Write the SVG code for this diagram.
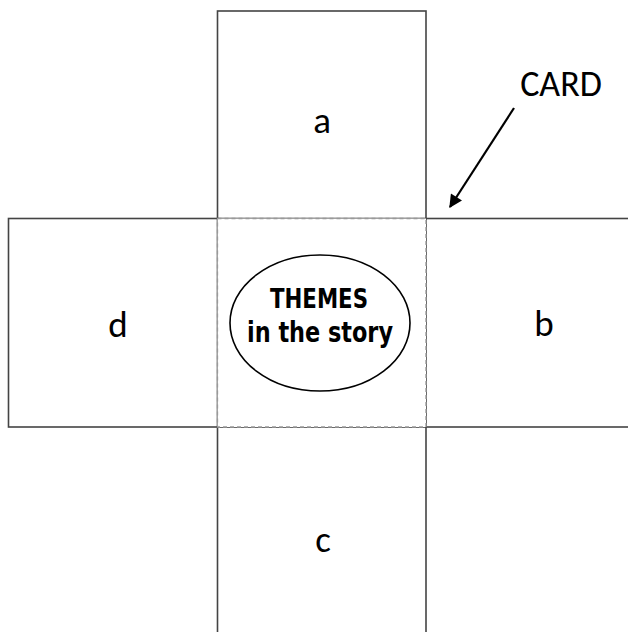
<svg xmlns="http://www.w3.org/2000/svg" width="628" height="632" viewBox="0 0 628 632">
<style>
.panel{fill:#fff;stroke:#444;stroke-width:1.6}
.fold{fill:none;stroke:#999;stroke-width:1.3;stroke-dasharray:4 3}
.lbl{font-family:Carlito,"Liberation Sans",sans-serif;font-size:37px;fill:#000;text-anchor:middle}
.theme{font-family:"DejaVu Sans Condensed","DejaVu Sans",sans-serif;font-weight:bold;fill:#000;text-anchor:middle}
</style>
<defs>
<marker id="ah" viewBox="0 0 10 10" refX="9" refY="5" markerWidth="7" markerHeight="6" orient="auto" markerUnits="strokeWidth">
<path d="M0,0 L10,5 L0,10 z" fill="#000"/>
</marker>
</defs>
<rect width="628" height="632" fill="#fff"/>
<g id="a"><rect class="panel" x="217.5" y="11" width="208.5" height="207.5"/><text class="lbl" x="322" y="133">a</text></g>
<g id="d"><rect class="panel" x="8.5" y="218.5" width="209" height="208.5"/><text class="lbl" x="118" y="337">d</text></g>
<g id="b"><rect class="panel" x="426" y="218.5" width="210" height="208.5"/><text class="lbl" x="544" y="336">b</text></g>
<g id="c"><rect class="panel" x="217.5" y="427" width="208.5" height="215"/><text class="lbl" x="323" y="552">c</text></g>
<g id="center">
<rect x="217.5" y="218.5" width="208.5" height="208.5" fill="#fff"/>
<rect class="fold" x="217.5" y="218.5" width="208.5" height="208.5"/>
<ellipse cx="320" cy="323" rx="90" ry="68" fill="#fff" stroke="#000" stroke-width="1.6"/>
<text class="theme" x="319" y="308" font-size="27" textLength="98" lengthAdjust="spacingAndGlyphs">THEMES</text>
<text class="theme" x="320" y="342" font-size="28" textLength="146" lengthAdjust="spacingAndGlyphs">in the story</text>
</g>
<g id="card"><text font-family="Carlito,'Liberation Sans',sans-serif" font-size="36" x="561" y="96" text-anchor="middle">CARD</text></g>
<g id="connectors">
<line x1="514" y1="108" x2="450" y2="207" stroke="#000" stroke-width="2.2" marker-end="url(#ah)"/>
</g>
</svg>
